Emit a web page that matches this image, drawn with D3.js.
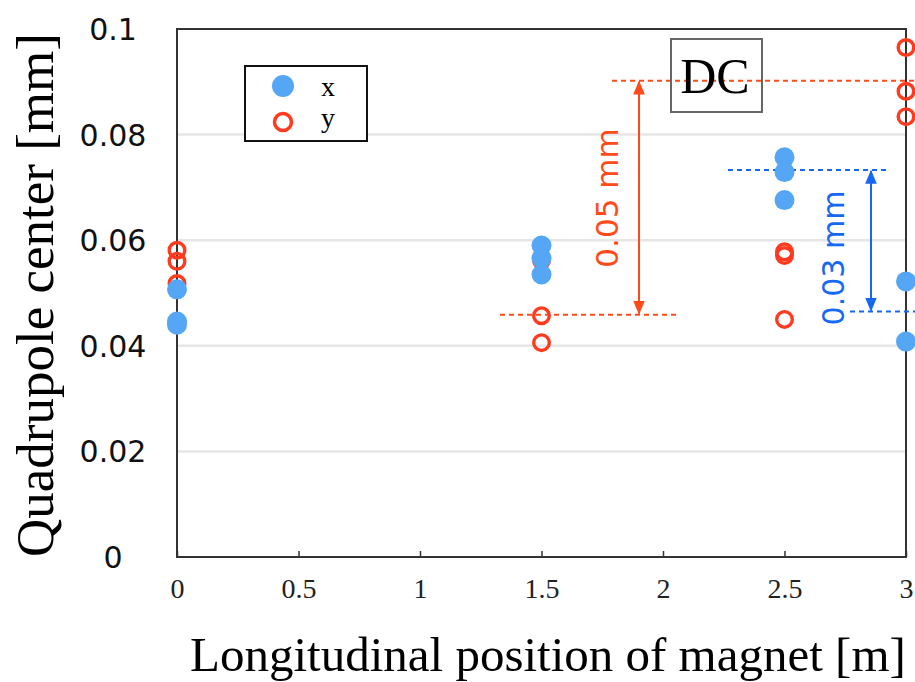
<!DOCTYPE html>
<html>
<head>
<meta charset="utf-8">
<script src="https://cdn.jsdelivr.net/npm/d3@7"></script>
<style>
  body { margin: 0; background: #fff; }
  svg { display: block; }
</style>
</head>
<body>
<svg id="chart" width="915" height="682"></svg>
<script>
// magnet positions [m] and measured quadrupole centres [mm]
var xSeriesX = [0, 0, 0, 1.5, 1.5, 1.5, 2.5, 2.5, 2.5, 3, 3];
var xSeriesY = [0.0507, 0.0446, 0.0440, 0.0590, 0.0566, 0.0535, 0.0757, 0.0729, 0.0676, 0.0522, 0.0408];
var ySeriesX = [0, 0, 0, 1.5, 1.5, 1.5, 2.5, 2.5, 2.5, 3, 3, 3];
var ySeriesY = [0.0581, 0.0560, 0.0518, 0.0562, 0.0457, 0.0406, 0.0578, 0.0571, 0.0450, 0.0965, 0.0882, 0.0834];
var xTicks = [0, 0.5, 1, 1.5, 2, 2.5, 3];
var yTicks = [0, 0.02, 0.04, 0.06, 0.08, 0.1];
var gridTicks = [0.02, 0.04, 0.06, 0.08];
// spread annotations: [low, high]
var ySpread = [0.0459, 0.0902];
var xSpread = [0.0465, 0.0733];

var svg = d3.select("#chart");
var mLeft = 177, mRight = 906, mTop = 29, mBottom = 557;

var x = d3.scaleLinear().domain([0, 3]).range([mLeft, mRight]);
var y = d3.scaleLinear().domain([0, 0.1]).range([mBottom, mTop]);

var red = "#ff3a1f", blue = "#55a6f5", orange = "#ff4a1a", arrowBlue = "#1468f2";
var serif = "'Liberation Serif', 'Times New Roman', serif";
var sans = "'DejaVu Sans', Arial, sans-serif";

// grid
svg.append("g").selectAll("line")
  .data(gridTicks).enter().append("line")
  .attr("x1", mLeft).attr("x2", mRight)
  .attr("y1", function(d) { return y(d); })
  .attr("y2", function(d) { return y(d); })
  .attr("stroke", "#e6e6e6").attr("stroke-width", 2.5);

// frame
svg.append("rect")
  .attr("x", mLeft).attr("y", mTop)
  .attr("width", mRight - mLeft).attr("height", mBottom - mTop)
  .attr("fill", "none").attr("stroke", "#333").attr("stroke-width", 2);

// x axis: inner ticks + serif labels
var xAxis = d3.axisBottom(x).tickValues(xTicks).tickSizeInner(-6).tickSizeOuter(0)
  .tickPadding(21).tickFormat(d3.format("~g"));
var gx = svg.append("g").attr("transform", "translate(0," + mBottom + ")").call(xAxis);
gx.select(".domain").remove();
gx.selectAll(".tick line").attr("stroke", "#333").attr("stroke-width", 1.5);
gx.selectAll(".tick text")
  .style("font-family", serif).style("font-size", "28px").attr("fill", "#222");

// y labels (centered column, no tick marks)
svg.append("g").selectAll("text")
  .data(yTicks).enter().append("text")
  .attr("x", 113)
  .attr("y", function(d) { return y(d) + 11; })
  .attr("text-anchor", "middle")
  .style("font-family", sans)
  .style("font-size", "30px").attr("fill", "#111")
  .text(function(d) { return d3.format("~g")(d); });

// axis titles
svg.append("text")
  .attr("transform", "translate(53," + ((mTop + mBottom) / 2 + 2) + ") rotate(-90)")
  .attr("text-anchor", "middle")
  .style("font-family", serif).style("font-size", "53px").attr("fill", "#000")
  .text("Quadrupole center [mm]");
svg.append("text")
  .attr("x", 190).attr("y", 671)
  .attr("text-anchor", "start")
  .style("font-family", serif).style("font-size", "49px").attr("fill", "#000")
  .text("Longitudinal position of magnet [m]");

// annotations
function dashed(x1, x2, yv, color) {
  svg.append("line")
    .attr("x1", x1).attr("x2", x2).attr("y1", y(yv)).attr("y2", y(yv))
    .attr("stroke", color).attr("stroke-width", 2).attr("stroke-dasharray", "5,4");
}
function arrow(xp, lo, hi, color, id) {
  svg.append("defs").append("marker").attr("id", id)
    .attr("viewBox", "0 0 12 10").attr("refX", 11).attr("refY", 5)
    .attr("markerWidth", 7).attr("markerHeight", 6).attr("orient", "auto-start-reverse")
    .append("path").attr("d", "M0,0 L12,5 L0,10 z").attr("fill", color);
  svg.append("line")
    .attr("x1", xp).attr("x2", xp).attr("y1", y(lo) - 1).attr("y2", y(hi) + 1)
    .attr("stroke", color).attr("stroke-width", 2)
    .attr("marker-start", "url(#" + id + ")").attr("marker-end", "url(#" + id + ")");
}
dashed(612, 915, ySpread[1], orange);
dashed(500, 678, ySpread[0], orange);
arrow(639, ySpread[0], ySpread[1], orange, "arrRed");
svg.append("text")
  .attr("transform", "translate(618,198) rotate(-90)")
  .attr("text-anchor", "middle")
  .style("font-family", sans).style("font-size", "31px").attr("fill", orange)
  .text("0.05 mm");

dashed(728, 888, xSpread[1], arrowBlue);
dashed(850, 915, xSpread[0], arrowBlue);
arrow(871, xSpread[0], xSpread[1], arrowBlue, "arrBlue");
svg.append("text")
  .attr("transform", "translate(844,258) rotate(-90)")
  .attr("text-anchor", "middle")
  .style("font-family", sans).style("font-size", "30px").attr("fill", arrowBlue)
  .text("0.03 mm");

// DC box
svg.append("rect").attr("x", 671).attr("y", 39).attr("width", 91).attr("height", 73)
  .attr("fill", "none").attr("stroke", "#666").attr("stroke-width", 2);
svg.append("text").attr("x", 715).attr("y", 93).attr("text-anchor", "middle")
  .style("font-family", serif).style("font-size", "50px").attr("fill", "#000")
  .text("DC");

// points: red open circles first, blue filled on top
svg.append("g").selectAll("circle")
  .data(d3.range(ySeriesY.length)).enter().append("circle")
  .attr("cx", function(i) { return x(ySeriesX[i]); })
  .attr("cy", function(i) { return y(ySeriesY[i]); })
  .attr("r", 7.8).attr("fill", "none").attr("stroke", red).attr("stroke-width", 3.4);
svg.append("g").selectAll("circle")
  .data(d3.range(xSeriesY.length)).enter().append("circle")
  .attr("cx", function(i) { return x(xSeriesX[i]); })
  .attr("cy", function(i) { return y(xSeriesY[i]); })
  .attr("r", 10).attr("fill", blue);

// legend
var lg = svg.append("g");
lg.append("rect").attr("x", 245).attr("y", 66).attr("width", 122).attr("height", 75)
  .attr("fill", "#fff").attr("stroke", "#111").attr("stroke-width", 2);
lg.append("circle").attr("cx", 283).attr("cy", 86).attr("r", 11).attr("fill", blue);
lg.append("circle").attr("cx", 283).attr("cy", 122).attr("r", 8.5).attr("fill", "none")
  .attr("stroke", red).attr("stroke-width", 3.5);
lg.append("text").attr("x", 321).attr("y", 96).style("font-family", serif)
  .style("font-size", "28px").text("x");
lg.append("text").attr("x", 321).attr("y", 127).style("font-family", serif)
  .style("font-size", "28px").text("y");
</script>
</body>
</html>
